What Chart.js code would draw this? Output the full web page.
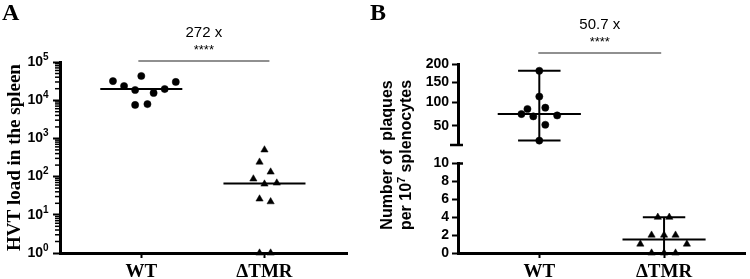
<!DOCTYPE html>
<html><head><meta charset="utf-8">
<script src="https://cdn.jsdelivr.net/npm/chart.js@4.4.1/dist/chart.umd.min.js"></script>
<style>
html,body{margin:0;padding:0;background:#fff;}
#wrap{position:relative;width:750px;height:279px;overflow:hidden;background:#fff;}
canvas{position:absolute;left:0;top:0;}
</style></head><body>
<div id="wrap">
<canvas id="cA" width="750" height="279"></canvas>
<canvas id="cB1" width="750" height="279"></canvas>
<canvas id="cB2" width="750" height="279"></canvas>
</div>
<script>
// ---------- data ----------
const categories = ['WT', 'ΔTMR'];
// Panel A: HVT load in the spleen (log scale)
const hvtWT  = [31600, 23500, 43000, 18500, 15500, 19600, 30000, 7500, 7900];
const hvtTMR = [500, 240, 132, 87, 64, 68, 26, 22, 1, 1];
const hvtWTJitter  = [-0.23, -0.14, 0, -0.05, 0.10, 0.19, 0.28, -0.05, 0.05];
const hvtTMRJitter = [0, -0.04, 0.05, -0.09, 0, 0.10, -0.04, 0.05, -0.04, 0.05];
const hvtTickBase = '10';
const hvtTickExp = ['0', '1', '2', '3', '4', '5'];
const hvtTitle = 'HVT load in the spleen';
const hvtFold = '272 x';
// Panel B: number of plaques per 10^7 splenocytes (broken axis)
const plqWT  = [181, 114, 85, 74, 69, 88, 71, 52, 24];
const plqTMR = [4, 4, 2, 2, 2, 1, 1, 0, 0, 0];
const plqWTJitter  = [0, 0, -0.095, -0.143, -0.048, 0.048, 0.143, 0.048, 0];
const plqTMRJitter = [-0.05, 0.042, -0.1, 0, 0.092, -0.19, 0.183, -0.1, 0, 0.092];
const plqUpperTicks = [50, 100, 150, 200];
const plqLowerTicks = [0, 2, 4, 6, 8, 10];
const plqTitleLine1 = 'Number of  plaques';
const plqTitleLine2 = ['per 10', '7', ' splenocytes'];   // [text, superscript, text]
const plqFold = '50.7 x';
const significance = '****';

// ---------- helpers ----------
const FS = "'Liberation Serif', 'Times New Roman', serif";
const FA = "'Liberation Sans', Arial, Helvetica, sans-serif";
Chart.defaults.font.family = FA;
Chart.defaults.color = '#000';

function median(a){const s=[...a].sort((p,q)=>p-q);const n=s.length;return n%2?s[(n-1)/2]:(s[n/2-1]+s[n/2])/2;}
function pts(vals, jit, cx){return vals.map((v,i)=>({x:cx+jit[i], y:v}));}
function seg(x1,y1,x2,y2,w){return {data:[{x:x1,y:y1},{x:x2,y:y2}], showLine:true, borderColor:'#000', borderWidth:w, pointRadius:0, clip:false};}
function dots(data, style, r){return {data, pointStyle:style, pointRadius:r, backgroundColor:'#000', borderColor:'#000', borderWidth:0.5, clip:false};}
const isPow10 = v => { const l = Math.log10(v); return Math.abs(l - Math.round(l)) < 1e-9; };
const HALF = 0.333, CAP = 0.17;

// power scale for the upper (compressed) segment of panel B
const P = 0.72;
class PowerScale extends Chart.LinearScale {
  static id = 'power';
  _f(v){ return Math.pow(Math.max(v,0), P); }
  getPixelForValue(value){
    if (value === null || value === undefined || isNaN(value)) return NaN;
    const a=this._f(this.min), b=this._f(this.max);
    return this.getPixelForDecimal((this._f(value)-a)/(b-a));
  }
  getValueForPixel(pixel){
    const a=this._f(this.min), b=this._f(this.max);
    return Math.pow(a + this.getDecimalForPixel(pixel)*(b-a), 1/P);
  }
}
Chart.register(PowerScale);

const xCatAxis = (min, max) => ({
  type:'linear', min, max,
  afterBuildTicks:s=>{s.ticks=[{value:1},{value:2}];},
  afterFit:s=>{s.height=26;},
  ticks:{callback:v=>categories[Math.round(v)-1], font:{family:FS, size:19, weight:'bold'}, padding:3, autoSkip:false, maxRotation:0, color:'#000'},
  grid:{display:true, drawOnChartArea:false, tickLength:5, tickWidth:2, tickColor:'#000'},
  border:{width:3, color:'#000'}
});
const baseOpts = {responsive:false, animation:false, events:[], devicePixelRatio:1,
  plugins:{legend:{display:false}, tooltip:{enabled:false}}};

function drawSig(ctx, x, y1, y2, ybar, fold){
  ctx.save();
  ctx.strokeStyle='#222'; ctx.lineWidth=1.2;
  ctx.beginPath(); ctx.moveTo(x.getPixelForValue(y1), ybar); ctx.lineTo(x.getPixelForValue(y2), ybar); ctx.stroke();
  const cx = (x.getPixelForValue(y1)+x.getPixelForValue(y2))/2;
  ctx.fillStyle='#000'; ctx.textAlign='center'; ctx.textBaseline='middle';
  ctx.font='15px '+FA; ctx.fillText(fold, cx, ybar-28);
  ctx.font='13px '+FA; ctx.fillText(significance, cx, ybar-11);
  ctx.restore();
}

// ---------- Panel A ----------
const medWT_A = median(hvtWT), medTMR_A = median(hvtTMR);
new Chart(document.getElementById('cA'), {
  type:'scatter',
  data:{datasets:[
    dots(pts(hvtWT, hvtWTJitter, 1), 'circle', 3.6),
    dots(pts(hvtTMR, hvtTMRJitter, 2), 'triangle', 4.2),
    seg(1-HALF, medWT_A, 1+HALF, medWT_A, 2),
    seg(2-HALF, medTMR_A, 2+HALF, medTMR_A, 2)
  ]},
  options:Object.assign({}, baseOpts, {
    layout:{padding:{left:0, top:62, right:403, bottom:0}},
    scales:{
      x: xCatAxis(0.34, 2.67),
      y:{type:'logarithmic', min:1, max:1e5,
        afterBuildTicks:s=>{const t=[];for(let e=0;e<5;e++){for(let m=1;m<10;m++)t.push({value:m*Math.pow(10,e), major:m===1});}t.push({value:1e5, major:true});s.ticks=t;},
        afterFit:s=>{s.width=60;},
        ticks:{callback:v=>isPow10(v)?hvtTickBase:'', font:{size:14, weight:'bold'}, padding:10, autoSkip:false, color:'#000'},
        grid:{drawOnChartArea:false, tickLength:7, tickWidth:2, tickColor:c=>(c.tick && isPow10(c.tick.value))?'#000':'rgba(0,0,0,0)'},
        border:{width:3, color:'#000'},
        title:{display:true, text:hvtTitle, font:{family:FS, size:19, weight:'bold'}, padding:{top:4, bottom:0}, color:'#000'}
      }
    }
  }),
  plugins:[{id:'annA', afterDraw(chart){
    const {ctx, scales:{x,y}, chartArea} = chart;
    ctx.save(); ctx.strokeStyle='#000'; ctx.lineWidth=1.5;
    ctx.fillStyle='#000'; ctx.font='bold 10px '+FA; ctx.textAlign='left'; ctx.textBaseline='middle';
    y.ticks.forEach(t=>{
      const py=y.getPixelForValue(t.value);
      if(!isPow10(t.value)){ ctx.beginPath(); ctx.moveTo(chartArea.left-5, py); ctx.lineTo(chartArea.left, py); ctx.stroke(); }
      else { ctx.fillText(hvtTickExp[Math.round(Math.log10(t.value))], 43, py-5); }
    });
    ctx.font='bold 24px '+FS; ctx.textAlign='left'; ctx.textBaseline='alphabetic'; ctx.fillText('A', 2, 20);
    ctx.restore();
    drawSig(ctx, x, 0.976, 2.04, chartArea.top-1, hvtFold);
  }}]
});

// ---------- Panel B upper segment ----------
const medWT_B = median(plqWT), minWT_B = Math.min(...plqWT), maxWT_B = Math.max(...plqWT);
new Chart(document.getElementById('cB1'), {
  type:'scatter',
  data:{datasets:[
    dots(pts(plqWT, plqWTJitter, 1), 'circle', 3.6),
    seg(1-HALF, medWT_B, 1+HALF, medWT_B, 2),
    seg(1, minWT_B, 1, maxWT_B, 2),
    seg(1-CAP, minWT_B, 1+CAP, minWT_B, 2),
    seg(1-CAP, maxWT_B, 1+CAP, maxWT_B, 2)
  ]},
  options:Object.assign({}, baseOpts, {
    layout:{padding:{left:0, top:64, right:2, bottom:134}},
    scales:{
      x:{type:'linear', display:false, min:0.349, max:2.651},
      y:{type:'power', min:17.4, max:200,
        afterBuildTicks:s=>{s.ticks=plqUpperTicks.map(v=>({value:v}));},
        afterFit:s=>{s.width=458;},
        ticks:{font:{size:14, weight:'bold'}, padding:3, autoSkip:false, color:'#000'},
        grid:{drawOnChartArea:false, tickLength:6, tickWidth:2, tickColor:'#000'},
        border:{width:3, color:'#000'}
      }
    }
  }),
  plugins:[{id:'annB1', afterDraw(chart){
    const {ctx, scales:{x}, chartArea} = chart;
    ctx.save(); ctx.strokeStyle='#000'; ctx.lineWidth=2.5;
    ctx.beginPath(); ctx.moveTo(chartArea.left-8, chartArea.bottom); ctx.lineTo(chartArea.left+5, chartArea.bottom); ctx.stroke();
    ctx.fillStyle='#000'; ctx.font='bold 24px '+FS; ctx.textAlign='left'; ctx.textBaseline='alphabetic'; ctx.fillText('B', 370, 20);
    ctx.translate(388, 155); ctx.rotate(-Math.PI/2);
    const f1='bold 16px '+FA, f2='bold 11px '+FA;
    ctx.font=f1; ctx.textAlign='center'; ctx.textBaseline='middle';
    ctx.fillText(plqTitleLine1, 0, 0);
    // second line with a real superscript
    const [a, sup, b] = plqTitleLine2;
    ctx.font=f1; const wa=ctx.measureText(a).width, wb=ctx.measureText(b).width;
    ctx.font=f2; const ws=ctx.measureText(sup).width;
    let sx = -(wa+ws+wb)/2;
    ctx.textAlign='left';
    ctx.font=f1; ctx.fillText(a, sx, 19); sx+=wa;
    ctx.font=f2; ctx.fillText(sup, sx, 14); sx+=ws;
    ctx.font=f1; ctx.fillText(b, sx, 19);
    ctx.restore();
    drawSig(ctx, x, 0.992, 1.976, chartArea.top-11, plqFold);
  }}]
});

// ---------- Panel B lower segment ----------
const medTMR_B = median(plqTMR), minTMR_B = Math.min(...plqTMR), maxTMR_B = Math.max(...plqTMR);
new Chart(document.getElementById('cB2'), {
  type:'scatter',
  data:{datasets:[
    dots(pts(plqTMR, plqTMRJitter, 2), 'triangle', 4.2),
    seg(2-HALF, medTMR_B, 2+HALF, medTMR_B, 2),
    seg(2, minTMR_B, 2, maxTMR_B, 2),
    seg(2-CAP, maxTMR_B, 2+CAP, maxTMR_B, 2),
    seg(2-CAP, minTMR_B, 2+CAP, minTMR_B, 2)
  ]},
  options:Object.assign({}, baseOpts, {
    layout:{padding:{left:0, top:163.5, right:2, bottom:0}},
    scales:{
      x: xCatAxis(0.349, 2.651),
      y:{type:'linear', min:0, max:10,
        afterBuildTicks:s=>{s.ticks=plqLowerTicks.map(v=>({value:v}));},
        afterFit:s=>{s.width=458;},
        ticks:{font:{size:14, weight:'bold'}, padding:3, autoSkip:false, color:'#000'},
        grid:{drawOnChartArea:false, tickLength:6, tickWidth:2, tickColor:'#000'},
        border:{width:3, color:'#000'}
      }
    }
  }),
  plugins:[{id:'annB2', afterDraw(chart){
    const {ctx, chartArea} = chart;
    ctx.save(); ctx.strokeStyle='#000'; ctx.lineWidth=2.5;
    ctx.beginPath(); ctx.moveTo(chartArea.left, chartArea.top); ctx.lineTo(chartArea.left+5, chartArea.top); ctx.stroke();
    ctx.restore();
  }}]
});
</script>
</body></html>
